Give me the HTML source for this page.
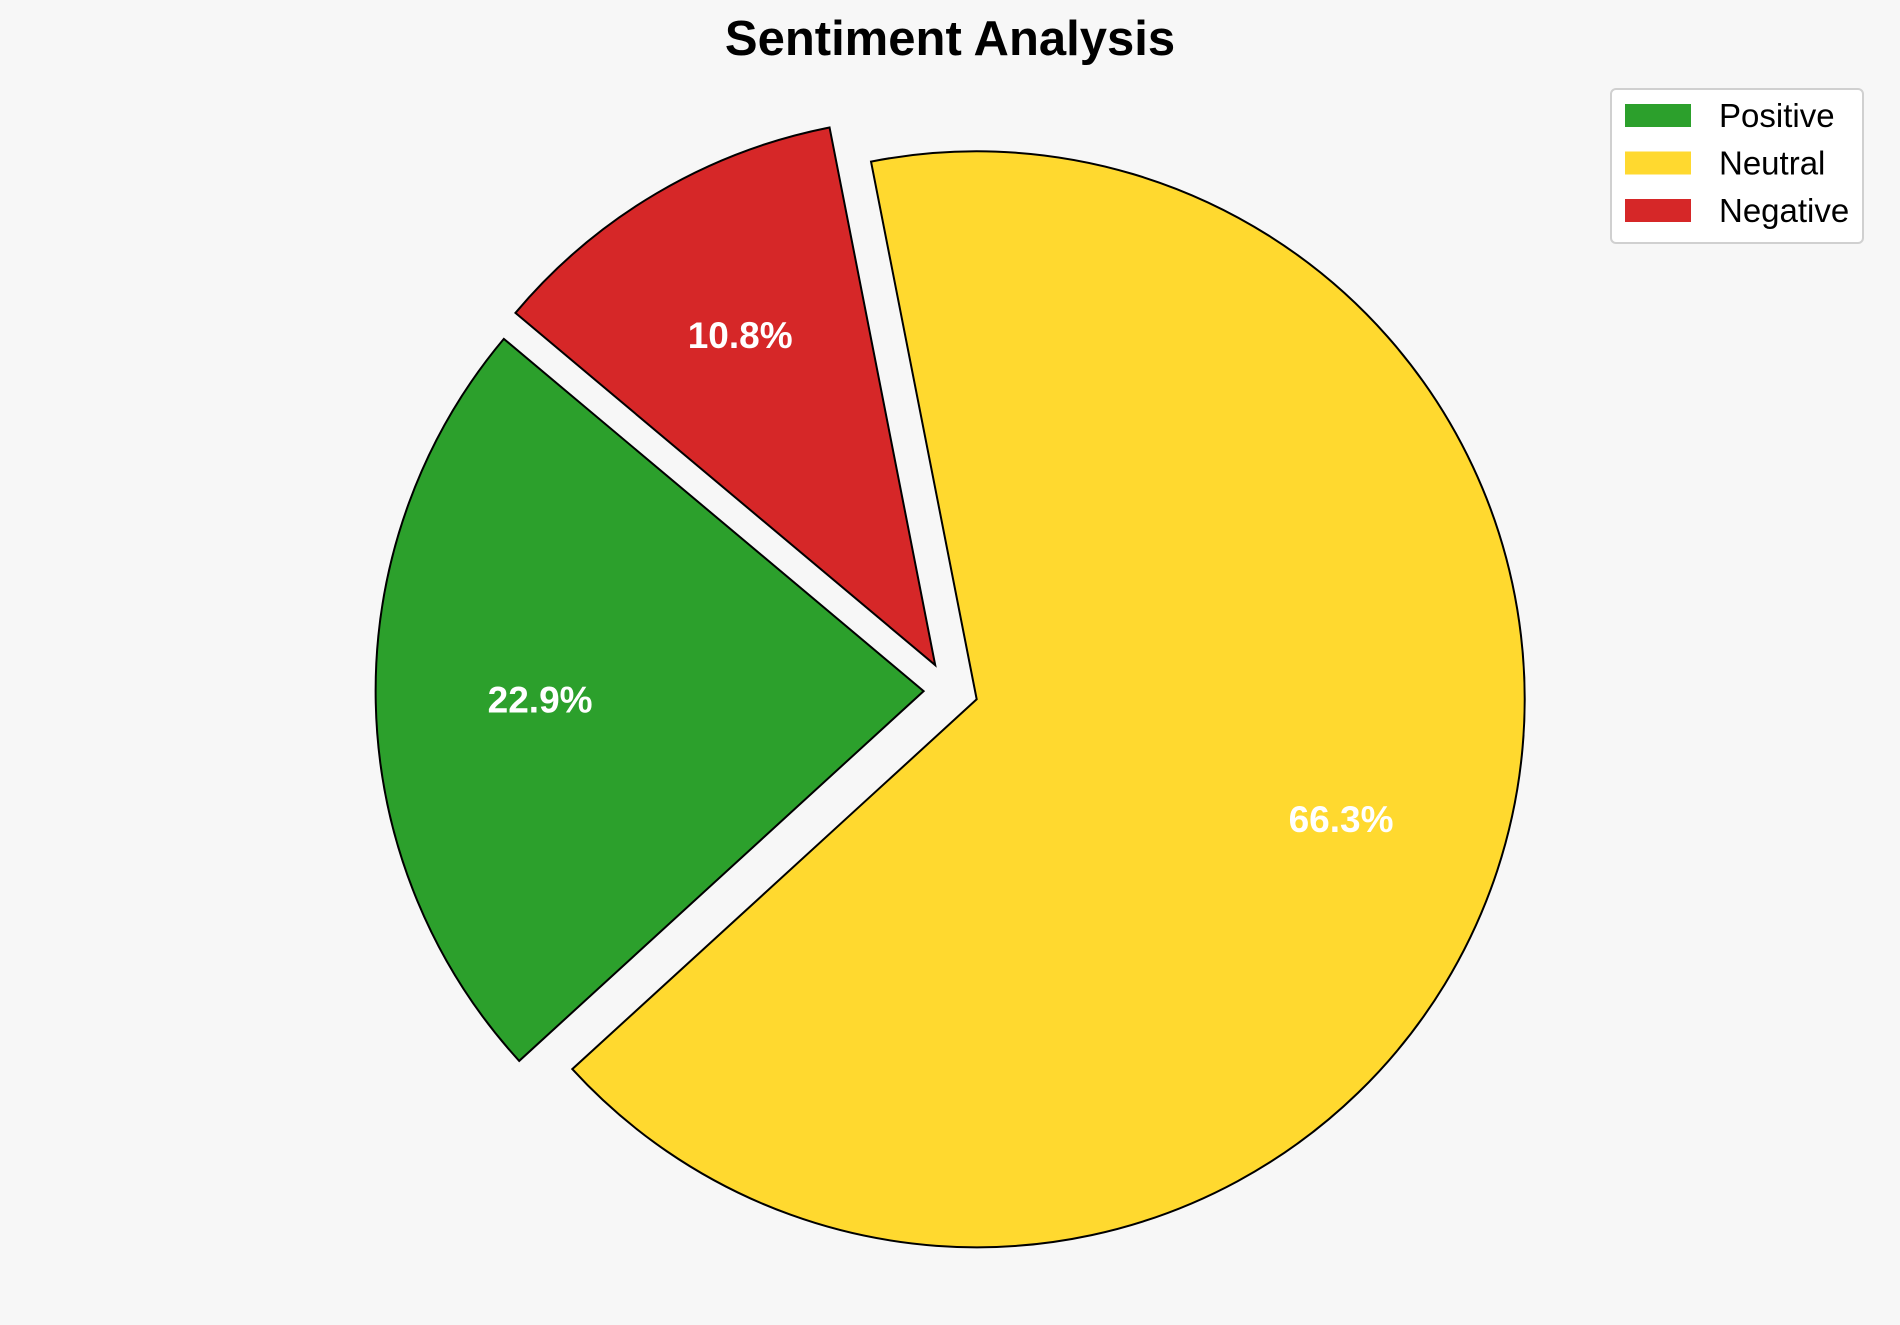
<!DOCTYPE html>
<html><head><meta charset="utf-8"><style>
html,body{margin:0;padding:0;background:#f7f7f7;}
svg{display:block;font-family:"Liberation Sans",Arial,sans-serif;}
</style></head><body>
<svg id="chart" width="1900" height="1325" viewBox="0 0 1900 1325">
<rect width="1900" height="1325" fill="#f7f7f7"/>
<text x="950" y="55" text-anchor="middle" font-size="49" font-weight="bold" fill="#000">Sentiment Analysis</text>
<g id="pie"></g>
<g>
<rect x="1611" y="89" width="252" height="154" rx="5" fill="#fff" stroke="#d0d0d0" stroke-width="2"/>
<g id="legend-items"></g>
</g>
</svg>
<script>
const categories = ["Positive", "Neutral", "Negative"];
const values = [22.9, 66.3, 10.8];
const explodeVals = [0.1, 0, 0.1];
const colors = ["#2ca02c", "#ffd92f", "#d62728"];
const explodeDirTweak = [-10, 0, 20];
const NS = "http://www.w3.org/2000/svg";
const cx = 976.7, cy = 699.3, R = 548, startAngle = 140, pctDist = 0.7;
const pie = document.getElementById("pie");
const labels = document.getElementById("legend-items");
const total = values.reduce((a, b) => a + b, 0);
let a0 = startAngle;
function pt(x, y, r, deg) { const t = deg * Math.PI / 180; return [x + r * Math.cos(t), y - r * Math.sin(t)]; }
values.forEach((v, i) => {
  const sweep = v / total * 360;
  const a1 = a0 + sweep;
  const mid = (a0 + a1) / 2;
  const [ox, oy] = pt(cx, cy, explodeVals[i] * R * 0.98, mid + explodeDirTweak[i]);
  const [x0, y0] = pt(ox, oy, R, a0);
  const [x1, y1] = pt(ox, oy, R, a1);
  const large = sweep > 180 ? 1 : 0;
  const p = document.createElementNS(NS, "path");
  p.setAttribute("d", `M${ox},${oy} L${x0},${y0} A${R},${R} 0 ${large} 0 ${x1},${y1} Z`);
  p.setAttribute("fill", colors[i]);
  p.setAttribute("stroke", "#000");
  p.setAttribute("stroke-width", "2");
  p.setAttribute("stroke-linejoin", "miter");
  
  
  pie.appendChild(p);
  const [lx, ly] = pt(ox, oy, pctDist * R, mid);
  const t = document.createElementNS(NS, "text");
  t.setAttribute("x", lx); t.setAttribute("y", ly + 13);
  t.setAttribute("text-anchor", "middle");
  t.setAttribute("font-size", "37"); t.setAttribute("font-weight", "bold"); t.setAttribute("fill", "#fff");
  t.textContent = v.toFixed(1) + "%";
  
  
  pie.appendChild(t);
  a0 = a1;
});
categories.forEach((c, i) => {
  const y = 104 + i * 47.5;
  const r = document.createElementNS(NS, "rect");
  r.setAttribute("x", 1625); r.setAttribute("y", y); r.setAttribute("width", 66); r.setAttribute("height", 23);
  r.setAttribute("fill", colors[i]);
  
  
  labels.appendChild(r);
  const t = document.createElementNS(NS, "text");
  t.setAttribute("x", 1719); t.setAttribute("y", y + 23);
  t.setAttribute("font-size", "33"); t.setAttribute("fill", "#000");
  t.textContent = c;
  
  
  labels.appendChild(t);
});
</script>
</body></html>
